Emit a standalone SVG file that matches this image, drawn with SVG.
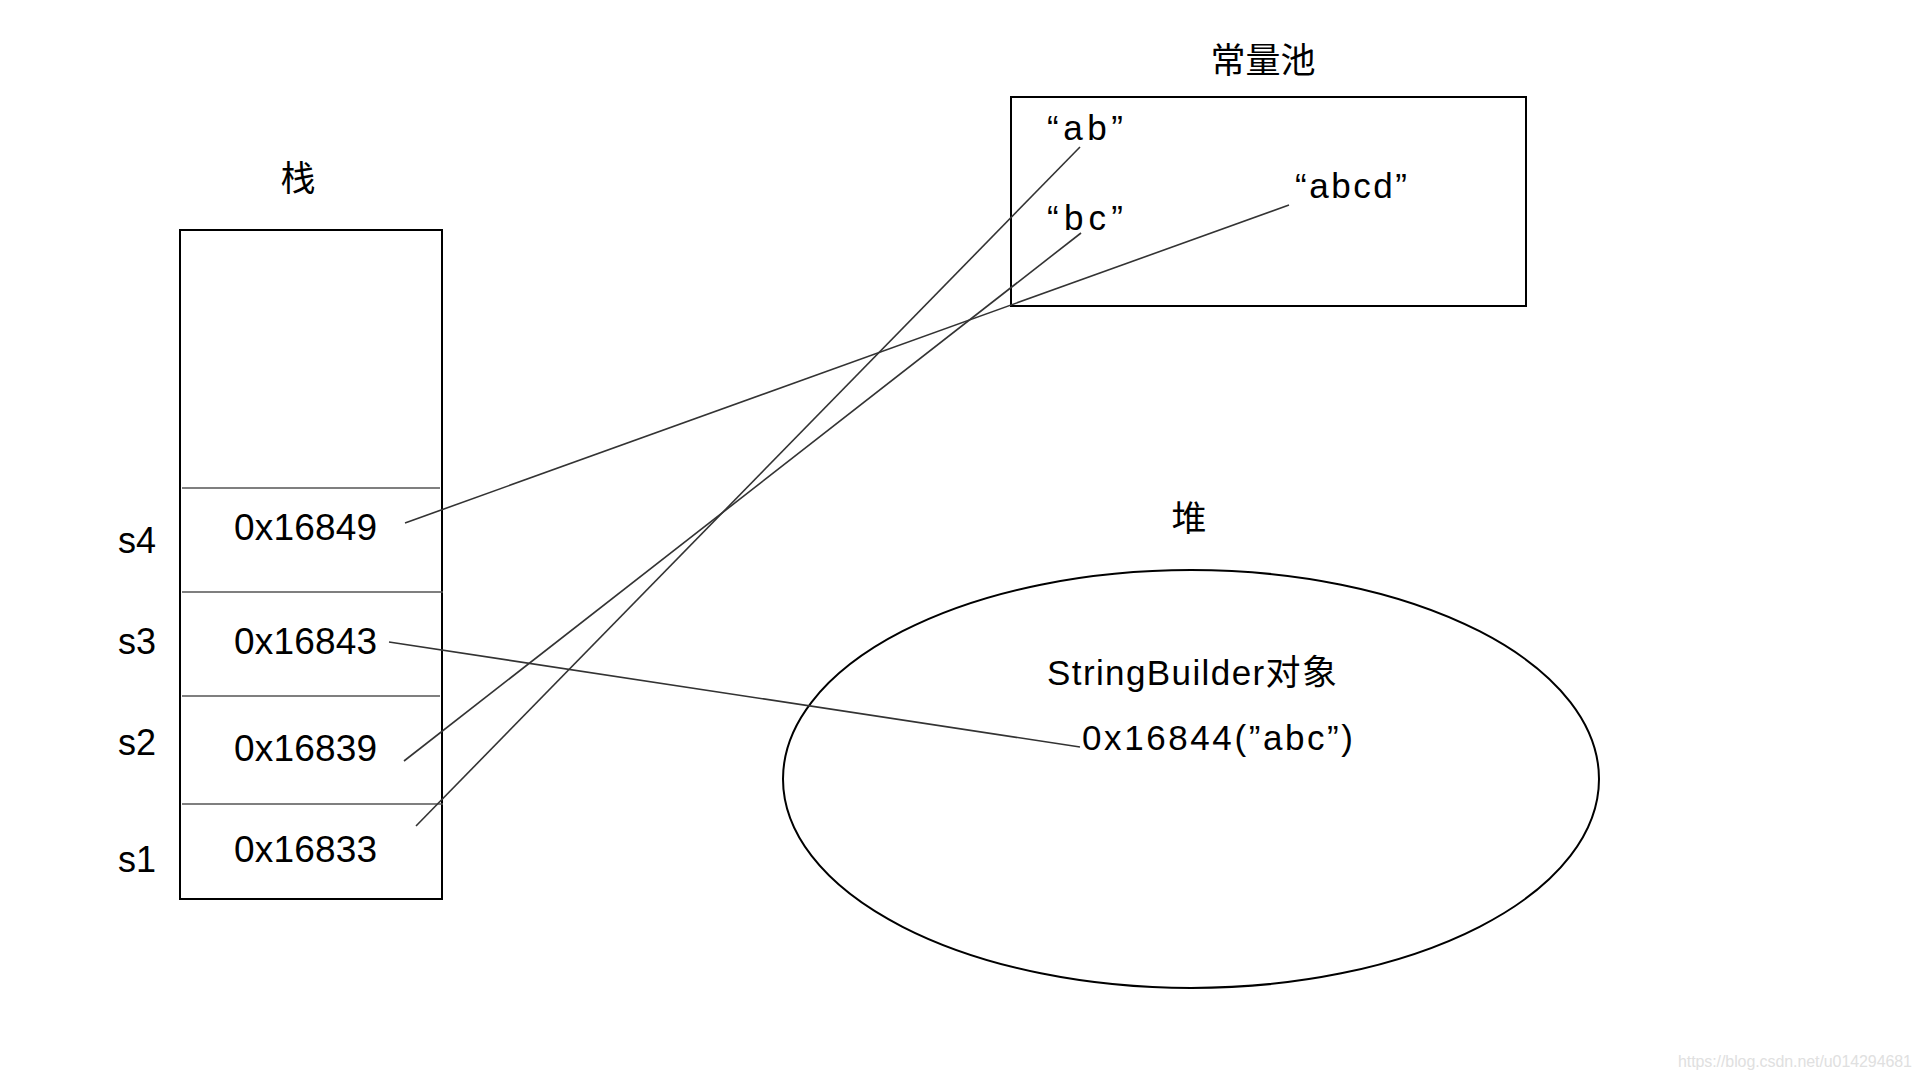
<svg xmlns="http://www.w3.org/2000/svg" width="1920" height="1080" viewBox="0 0 1920 1080">
  <style>
    .t { font-family: "Liberation Sans", "Noto Sans CJK SC", sans-serif; fill: #000; }
    .cjk { font-family: "Noto Sans CJK SC", "Liberation Sans", sans-serif; fill: #000; }
    .box { fill: none; stroke: #000; stroke-width: 2; }
    .div { stroke: #555; stroke-width: 1.5; }
    .conn { stroke: #333; stroke-width: 1.6; fill: none; }
  </style>
  <rect width="1920" height="1080" fill="#fff"/>

  <g id="stack">
    <text class="cjk" x="298" y="191" font-size="35" text-anchor="middle">栈</text>
    <rect class="box" x="180" y="230" width="262" height="669"/>
    <line class="div" x1="182" y1="488" x2="440" y2="488"/>
    <line class="div" x1="182" y1="592" x2="443" y2="592"/>
    <line class="div" x1="182" y1="696" x2="440" y2="696"/>
    <line class="div" x1="182" y1="804" x2="443" y2="804"/>
    <text class="t" x="234" y="540" font-size="37" textLength="143">0x16849</text>
    <text class="t" x="234" y="654" font-size="37" textLength="143">0x16843</text>
    <text class="t" x="234" y="761" font-size="37" textLength="143">0x16839</text>
    <text class="t" x="234" y="862" font-size="37" textLength="143">0x16833</text>
    <text class="t" x="118" y="553" font-size="36">s4</text>
    <text class="t" x="118" y="654" font-size="36">s3</text>
    <text class="t" x="118" y="755" font-size="36">s2</text>
    <text class="t" x="118" y="872" font-size="36">s1</text>
  </g>

  <g id="constant-pool">
    <text class="cjk" x="1263" y="73" font-size="35" text-anchor="middle">常量池</text>
    <rect class="box" x="1011" y="97" width="515" height="209"/>
    <text class="t" x="1047" y="140" font-size="35" textLength="76">“ab”</text>
    <text class="t" x="1047" y="230" font-size="35" textLength="76">“bc”</text>
    <text class="t" x="1295" y="198" font-size="35" textLength="112">“abcd”</text>
  </g>

  <g id="heap">
    <text class="cjk" x="1189" y="531" font-size="35" text-anchor="middle">堆</text>
    <ellipse class="box" cx="1191" cy="779" rx="408" ry="209"/>
    <text class="t" x="1047" y="685" font-size="35" textLength="290">StringBuilder对象</text>
    <text class="t" x="1082" y="750" font-size="35" textLength="271">0x16844(”abc”)</text>
  </g>

  <g id="connectors">
    <line class="conn" x1="405" y1="523" x2="1289" y2="205"/>
    <line class="conn" x1="389" y1="642" x2="1080" y2="747"/>
    <line class="conn" x1="404" y1="761" x2="1081" y2="233"/>
    <line class="conn" x1="416" y1="826" x2="1080" y2="147"/>
  </g>

  <text class="t" x="1678" y="1067" font-size="16" fill="#e0e0e0" style="fill:#e0e0e0" textLength="234">https://blog.csdn.net/u014294681</text>
</svg>
